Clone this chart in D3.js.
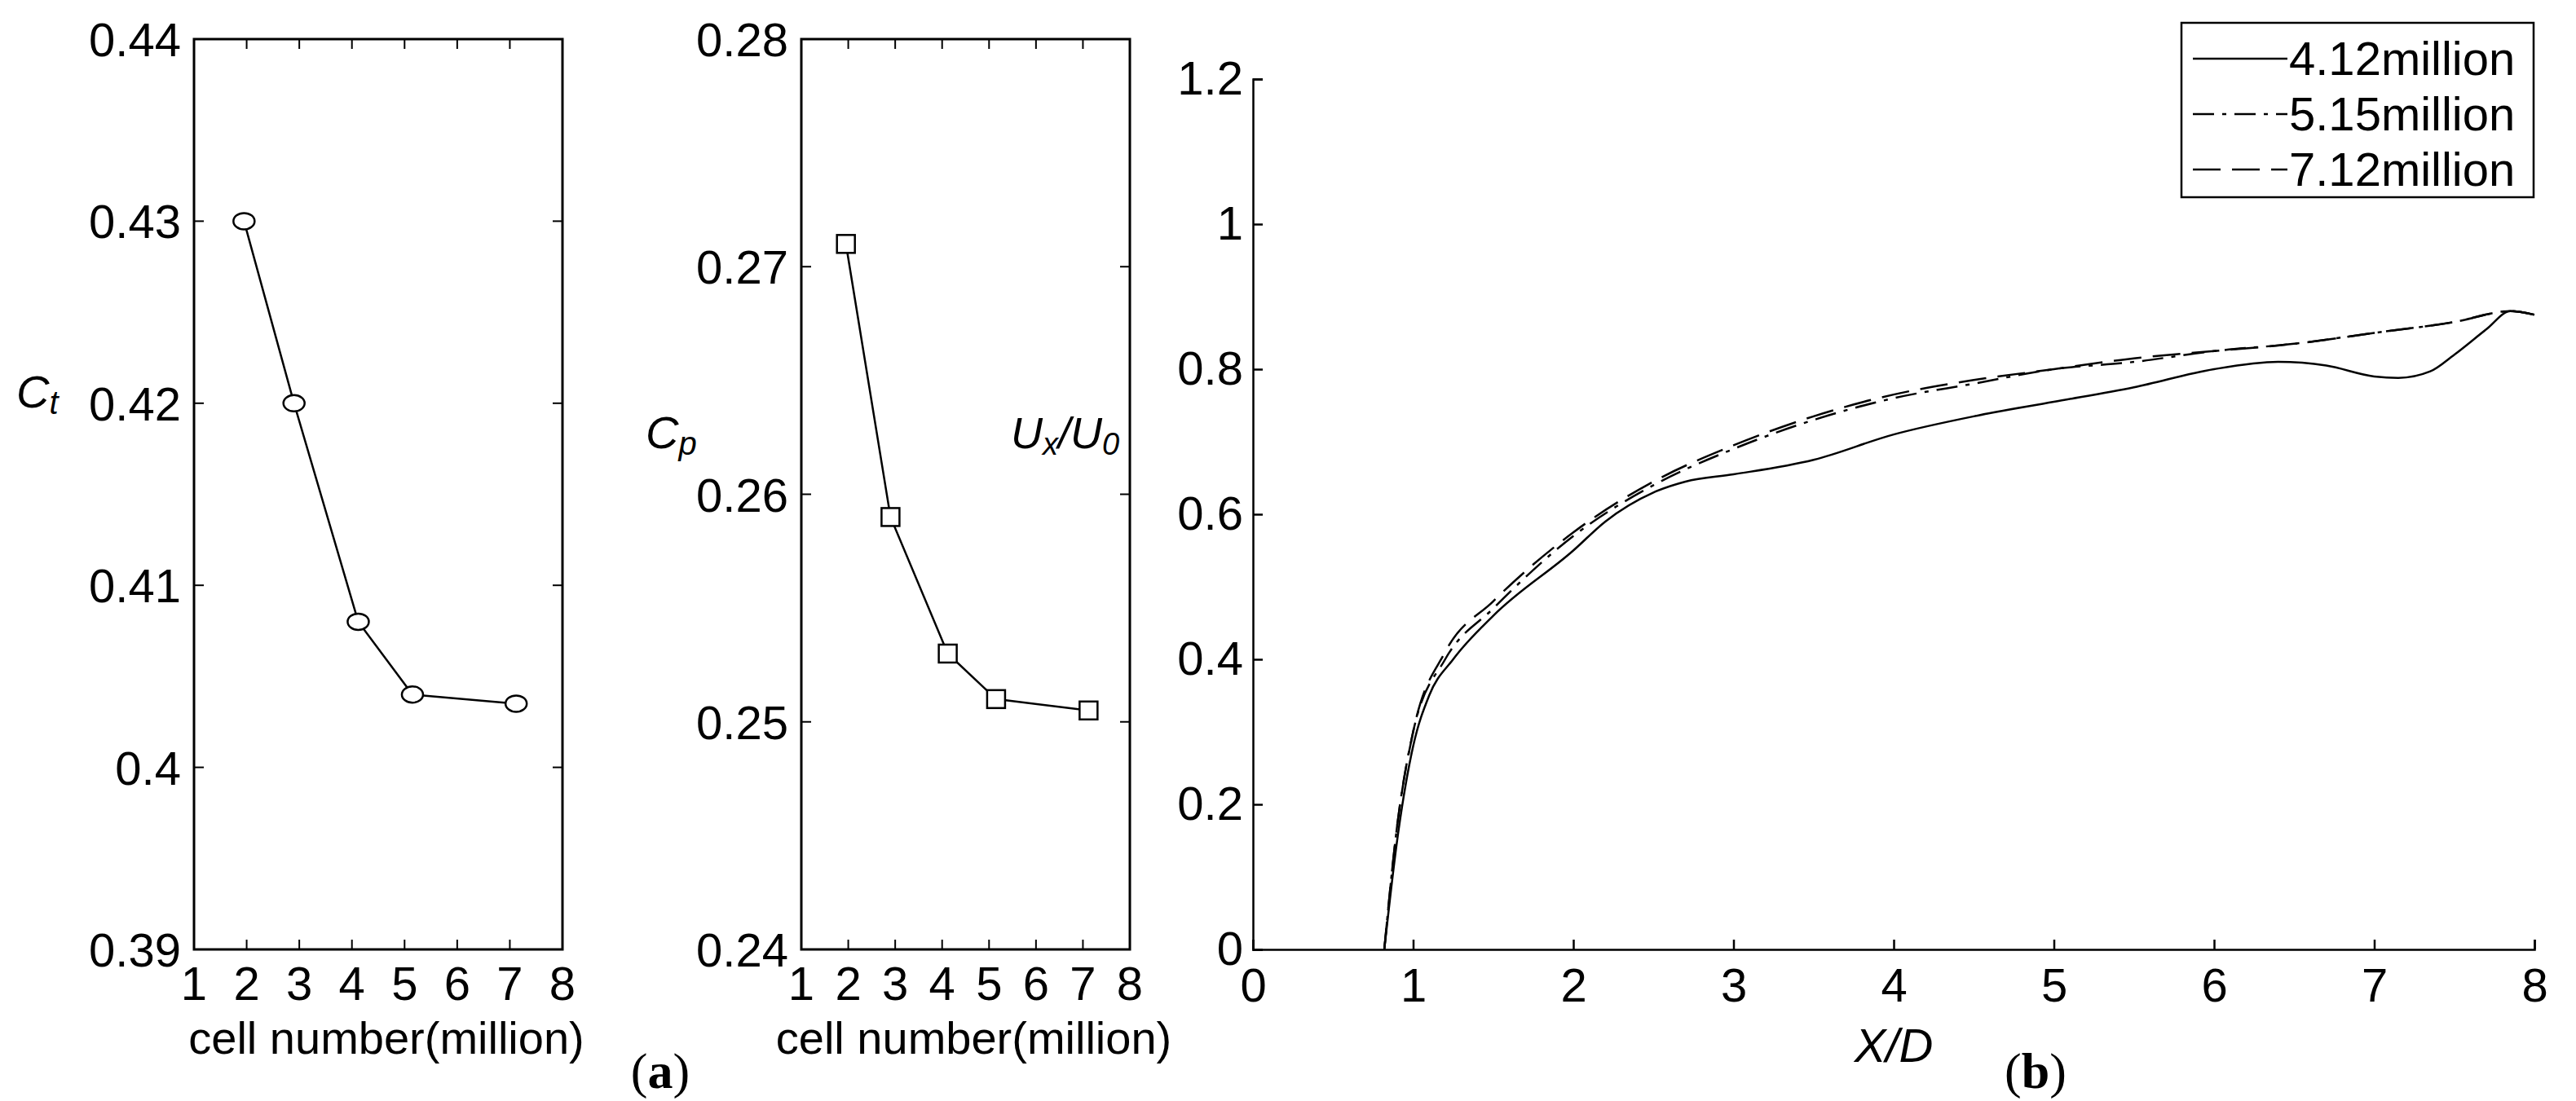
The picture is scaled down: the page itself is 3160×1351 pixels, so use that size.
<!DOCTYPE html>
<html><head><meta charset="utf-8">
<script src="https://cdn.jsdelivr.net/npm/d3@7"></script>
<style>body{margin:0;background:#fff}</style>
</head><body>
<script>
const cells = [1.95, 2.9, 4.12, 5.15, 7.12];
const ctValues = [0.430, 0.420, 0.408, 0.404, 0.4035];
const cpValues = [0.271, 0.259, 0.253, 0.251, 0.2505];
const leftXTicks = [1, 2, 3, 4, 5, 6, 7, 8];
const ctTicks = [0.39, 0.4, 0.41, 0.42, 0.43, 0.44];
const cpTicks = [0.24, 0.25, 0.26, 0.27, 0.28];
const rightXTicks = [0, 1, 2, 3, 4, 5, 6, 7, 8];
const rightYTicks = [0, 0.2, 0.4, 0.6, 0.8, 1, 1.2];
const seriesNames = ["4.12million", "5.15million", "7.12million"];
const m412 = [[0.82,0],[0.9,0.15],[1.0,0.28],[1.1,0.35],[1.25,0.40],[1.5,0.46],[2.0,0.55],[2.2,0.59],[2.5,0.63],[2.7,0.645],[3.0,0.655],[3.5,0.675],[4.0,0.71],[4.5,0.735],[5.0,0.755],[5.5,0.775],[6.0,0.80],[6.4,0.81],[6.7,0.805],[7.0,0.79],[7.15,0.788],[7.35,0.797],[7.5,0.82],[7.7,0.855],[7.85,0.88],[8.0,0.875]];
const m515 = [[0.82,0],[0.9,0.17],[1.0,0.30],[1.2,0.40],[1.5,0.47],[2.0,0.57],[2.5,0.64],[3.0,0.69],[3.5,0.73],[4.0,0.76],[4.5,0.78],[5.0,0.80],[5.5,0.81],[6.0,0.825],[6.5,0.835],[7.0,0.85],[7.5,0.865],[7.85,0.88],[8.0,0.875]];
const m712 = [[0.82,0],[0.9,0.17],[1.0,0.30],[1.2,0.41],[1.5,0.48],[2.0,0.575],[2.5,0.645],[3.0,0.695],[3.5,0.735],[4.0,0.765],[4.5,0.785],[5.0,0.80],[5.5,0.815],[6.0,0.825],[6.5,0.835],[7.0,0.85],[7.5,0.865],[7.85,0.88],[8.0,0.875]];
const seriesData = [m412, m515, m712];
const dashes = [null, "26,10,5,10", "34,14"];

const svg = d3.select("body").append("svg").attr("width", 3160).attr("height", 1351);
const font = "Liberation Sans, Arial, sans-serif";
const narrow = "Liberation Sans Narrow, Liberation Sans, sans-serif";
const FS = 58;

function boxPanel(x0, x1, y0, y1, yDomain, yTicks, values, marker) {
  const x = d3.scaleLinear().domain([1, 8]).range([x0, x1]);
  const y = d3.scaleLinear().domain(yDomain).range([y1, y0]);
  const g = svg.append("g");
  g.append("rect").attr("x", x0).attr("y", y0).attr("width", x1 - x0).attr("height", y1 - y0)
    .attr("fill", "none").attr("stroke", "#000").attr("stroke-width", 3);
  leftXTicks.forEach(t => {
    g.append("line").attr("x1", x(t)).attr("x2", x(t)).attr("y1", y1).attr("y2", y1 - 12).attr("stroke", "#000").attr("stroke-width", 2);
    g.append("line").attr("x1", x(t)).attr("x2", x(t)).attr("y1", y0).attr("y2", y0 + 12).attr("stroke", "#000").attr("stroke-width", 2);
    g.append("text").attr("x", x(t)).attr("y", y1 + 62).attr("text-anchor", "middle")
      .attr("font-family", font).attr("font-size", FS).text(t);
  });
  yTicks.forEach(t => {
    g.append("line").attr("x1", x0).attr("x2", x0 + 12).attr("y1", y(t)).attr("y2", y(t)).attr("stroke", "#000").attr("stroke-width", 2);
    g.append("line").attr("x1", x1).attr("x2", x1 - 12).attr("y1", y(t)).attr("y2", y(t)).attr("stroke", "#000").attr("stroke-width", 2);
    g.append("text").attr("x", x0 - 16).attr("y", y(t) + 21).attr("text-anchor", "end")
      .attr("font-family", font).attr("font-size", FS).text(t);
  });
  const pts = cells.map((c, i) => [c, values[i]]);
  g.append("path").attr("d", d3.line().x(d => x(d[0])).y(d => y(d[1]))(pts))
    .attr("fill", "none").attr("stroke", "#000").attr("stroke-width", 2.5);
  pts.forEach(d => {
    if (marker === "circle") {
      g.append("ellipse").attr("cx", x(d[0])).attr("cy", y(d[1])).attr("rx", 13).attr("ry", 10)
        .attr("fill", "#fff").attr("stroke", "#000").attr("stroke-width", 2.5);
    } else {
      g.append("rect").attr("x", x(d[0]) - 11).attr("y", y(d[1]) - 11).attr("width", 22).attr("height", 22)
        .attr("fill", "#fff").attr("stroke", "#000").attr("stroke-width", 2.5);
    }
  });
  g.append("text").attr("x", (x0 + x1) / 2 + 10).attr("y", y1 + 128).attr("text-anchor", "middle")
    .attr("font-family", font).attr("font-size", 56).text("cell number(million)");
  return g;
}

const gA = boxPanel(238, 690, 48, 1165, [0.39, 0.44], ctTicks, ctValues, "circle");
const gB = boxPanel(983, 1386, 48, 1165, [0.24, 0.28], cpTicks, cpValues, "square");
function italicSub(g, x, y, main, sub) {
  const t = g.append("text").attr("x", x).attr("y", y).attr("font-family", font).attr("font-size", 56).attr("font-style", "italic");
  t.append("tspan").text("C");
  t.append("tspan").attr("font-size", 40).attr("dy", 8).text(sub);
}
italicSub(gA, 20, 500, "C", "t");
italicSub(gB, 792, 550, "C", "p");

// panel (b)
const bx0 = 1537, bx1 = 3109, by0 = 97, by1 = 1165;
const xb = d3.scaleLinear().domain([0, 8]).range([bx0, bx1]);
const yb = d3.scaleLinear().domain([0, 1.2]).range([by1, by0]);
const gR = svg.append("g");
gR.append("g").attr("transform", `translate(0,${by1})`)
  .call(d3.axisBottom(xb).tickValues(rightXTicks).tickSize(-12).tickPadding(18).tickFormat(d3.format("d")))
  .call(a => { a.select(".domain").attr("stroke-width", 2.5); a.selectAll("line").attr("stroke-width", 2.5);
    a.selectAll("text").attr("font-family", narrow).attr("font-size", FS).attr("dy", "0.8em"); });
gR.append("g").attr("transform", `translate(${bx0},0)`)
  .call(d3.axisLeft(yb).tickValues(rightYTicks).tickSize(-12).tickPadding(12).tickFormat(d => d3.format("~g")(d)))
  .call(a => { a.select(".domain").attr("stroke-width", 2.5); a.selectAll("line").attr("stroke-width", 2.5);
    a.selectAll("text").attr("font-family", narrow).attr("font-size", FS); });
const lineGen = d3.line().x(d => xb(d[0])).y(d => yb(d[1])).curve(d3.curveMonotoneX);
seriesData.forEach((s, i) => {
  gR.append("path").attr("d", lineGen(s)).attr("fill", "none").attr("stroke", "#000")
    .attr("stroke-width", 2.5).attr("stroke-dasharray", dashes[i]);
});
// legend
const lg = gR.append("g").attr("transform", "translate(2676,28)");
lg.append("rect").attr("width", 432).attr("height", 214).attr("fill", "#fff").attr("stroke", "#000").attr("stroke-width", 2.5);
seriesNames.forEach((n, i) => {
  const yy = 44 + i * 68;
  lg.append("line").attr("x1", 14).attr("x2", 130).attr("y1", yy).attr("y2", yy)
    .attr("stroke", "#000").attr("stroke-width", 2.5).attr("stroke-dasharray", dashes[i]);
  lg.append("text").attr("x", 132).attr("y", yy + 20).attr("font-family", narrow).attr("font-size", FS).text(n);
});
const ux = gR.append("text").attr("x", 1240).attr("y", 550).attr("font-family", narrow).attr("font-size", 54).attr("font-style", "italic");
ux.append("tspan").text("U");
ux.append("tspan").attr("font-size", 38).attr("dy", 8).text("x");
ux.append("tspan").attr("dy", -8).text("/U");
ux.append("tspan").attr("font-size", 38).attr("dy", 8).text("0");
gR.append("text").attr("x", (bx0 + bx1) / 2).attr("y", by1 + 138).attr("text-anchor", "middle")
  .attr("font-family", narrow).attr("font-size", FS).attr("font-style", "italic").text("X/D");

// panel letters
[["a", 810], ["b", 2497]].forEach(([l, x]) => {
  const t = svg.append("text").attr("x", x).attr("y", 1335).attr("text-anchor", "middle")
    .attr("font-family", "Liberation Serif, serif").attr("font-size", 62);
  t.append("tspan").text("(");
  t.append("tspan").attr("font-weight", "bold").text(l);
  t.append("tspan").text(")");
});
</script>
</body></html>
